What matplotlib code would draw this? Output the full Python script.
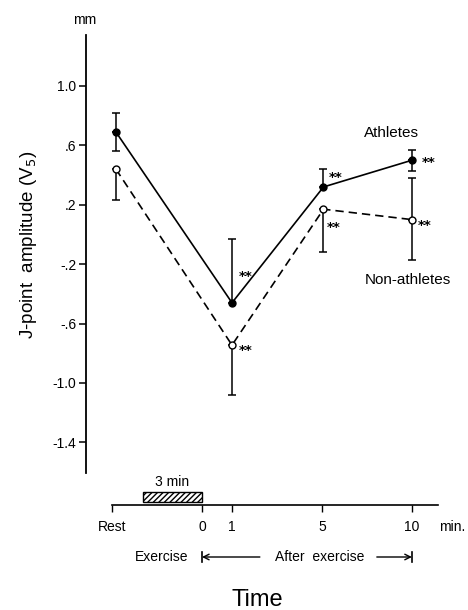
import matplotlib
matplotlib.use('Agg')
import matplotlib.pyplot as plt
import matplotlib.transforms as mtransforms
import numpy as np

plt.rcParams['font.family'] = ['Liberation Sans', 'DejaVu Sans']

# ---- data ----
time_labels = ['Rest', '0', '1', '5', '10']
time_ticks = [0, 3, 4, 7, 10]          # layout position of each time label
meas_x = [0.13, 4, 7.05, 10]           # Rest, 1, 5, 10 min
ath_mean = [0.69, -0.46, 0.32, 0.50]
ath_err_lo = [0.13, 0.0, 0.0, 0.07]
ath_err_hi = [0.13, 0.43, 0.12, 0.07]
non_mean = [0.44, -0.745, 0.17, 0.10]
non_err_lo = [0.21, 0.335, 0.29, 0.27]
non_err_hi = [0.0, 0.0, 0.0, 0.28]
ath_sig = ['', '**', '**', '**']
non_sig = ['', '**', '**', '**']
yticks = [1.0, 0.6, 0.2, -0.2, -0.6, -1.0, -1.4]
ytick_labels = ['1.0', '.6', '.2', '-.2', '-.6', '-1.0', '-1.4']

W, H = 468, 610
fig = plt.figure(figsize=(W / 100, H / 100), dpi=100)

def px_axes(x0, y0, x1, y1):
    return fig.add_axes([x0 / W, 1 - y1 / H, (x1 - x0) / W, (y1 - y0) / H])

# main axes (y axis only)
ax = px_axes(86, 35, 468, 473)
ax.set_xlim(-0.867, 11.867)
ax.set_ylim(-1.606, 1.343)
for s in ['top', 'right', 'bottom']:
    ax.spines[s].set_visible(False)
ax.spines['left'].set_linewidth(1.3)
ax.set_xticks([])
ax.set_yticks(yticks)
ax.set_yticklabels(ytick_labels, fontsize=10)
ax.tick_params(axis='y', direction='out', length=5, width=1.1, pad=2)
ax.patch.set_alpha(0)

mx = np.array(meas_x)
am, nm = np.array(ath_mean), np.array(non_mean)
alo, ahi = np.array(ath_err_lo), np.array(ath_err_hi)
nlo, nhi = np.array(non_err_lo), np.array(non_err_hi)

ax.plot(mx, am, '-', color='black', lw=1.2, zorder=3)
ax.plot(mx, nm, '--', color='black', lw=1.2, dashes=(5, 3), zorder=3)

def bars(x, y, lo, hi):
    m = lo > 0
    ax.errorbar(x[m], y[m], yerr=[lo[m], np.zeros(m.sum())], fmt='none',
                ecolor='black', elinewidth=1.1, capsize=2.6, capthick=1.1, zorder=2)
    m = hi > 0
    ax.errorbar(x[m], y[m], yerr=[np.zeros(m.sum()), hi[m]], fmt='none',
                ecolor='black', elinewidth=1.1, capsize=2.6, capthick=1.1, zorder=2)

bars(mx, am, alo, ahi)
bars(mx, nm, nlo, nhi)

ax.plot(mx, am, 'o', ms=5, mfc='black', mec='black', mew=1.0, zorder=4)
ax.plot(mx, nm, 'o', ms=5, mfc='white', mec='black', mew=1.0, zorder=4)

ath_off = [(0, 0), (10, 19), (9, 7), (12, -2)]
non_off = [(0, 0), (10, -4), (7, -13.5), (9, -4)]
for x, y, s, o in zip(mx, am, ath_sig, ath_off):
    if s:
        ax.annotate(s, (x, y), xytext=o, textcoords='offset points',
                    ha='center', va='center', fontsize=9.5, fontweight='bold',
                    family='DejaVu Sans')
for x, y, s, o in zip(mx, nm, non_sig, non_off):
    if s:
        ax.annotate(s, (x, y), xytext=o, textcoords='offset points',
                    ha='center', va='center', fontsize=9.5, fontweight='bold',
                    family='DejaVu Sans')

ax.text(9.33, 0.683, 'Athletes', ha='center', va='center', fontsize=11)
ax.text(9.87, -0.306, 'Non-athletes', ha='center', va='center', fontsize=11)

ax.set_ylabel('J-point  amplitude (V$_5$)', fontsize=13.5, labelpad=4)
ax.yaxis.set_label_coords(-(86 - 39) / (468 - 86), (473 - 245) / (473 - 35))

fig.text(85 / W, 1 - 20 / H, 'mm', ha='center', va='center', fontsize=10)

# time axis
axt = px_axes(112, 485, 438, 505)
axt.set_xlim(0, 10.87)
axt.set_ylim(0, 1)
for s in ['top', 'right', 'left']:
    axt.spines[s].set_visible(False)
axt.spines['bottom'].set_linewidth(1.2)
axt.set_yticks([])
axt.set_xticks(time_ticks)
axt.set_xticklabels(time_labels, fontsize=10)
axt.tick_params(axis='x', direction='out', length=5, width=1.0, pad=6)
axt.patch.set_alpha(0)

axt.bar(1.03, 0.5, width=3 - 1.03, bottom=0.15, align='edge',
        facecolor='white', edgecolor='black', hatch='//////', lw=1.0)
axt.text(2.0, 0.8, '3 min', ha='center', va='bottom', fontsize=10)
axt.text(11.33, -1.1, 'min.', ha='center', va='center', fontsize=10)

tr = mtransforms.blended_transform_factory(axt.transData, fig.transFigure)
yarr = 1 - 557 / H
fig.text(1.67, yarr, 'Exercise', transform=tr, ha='center', va='center', fontsize=10)
fig.text(6.93, yarr, 'After  exercise', transform=tr, ha='center', va='center', fontsize=10)
axt.annotate('', xy=(3.0, yarr), xytext=(4.93, yarr), xycoords=tr, textcoords=tr,
             arrowprops=dict(arrowstyle='->', lw=1.0, color='black', shrinkA=0, shrinkB=0),
             annotation_clip=False)
axt.annotate('', xy=(10.0, yarr), xytext=(8.83, yarr), xycoords=tr, textcoords=tr,
             arrowprops=dict(arrowstyle='->', lw=1.0, color='black', shrinkA=0, shrinkB=0),
             annotation_clip=False)
for xb in [3.0, 10.0]:
    axt.plot([xb, xb], [yarr - 0.009, yarr + 0.009], color='black', lw=1.2,
             transform=tr, clip_on=False)

fig.text(257 / W, 1 - 600 / H, 'Time', ha='center', va='center', fontsize=17)

fig.savefig('out.png', dpi=100)
